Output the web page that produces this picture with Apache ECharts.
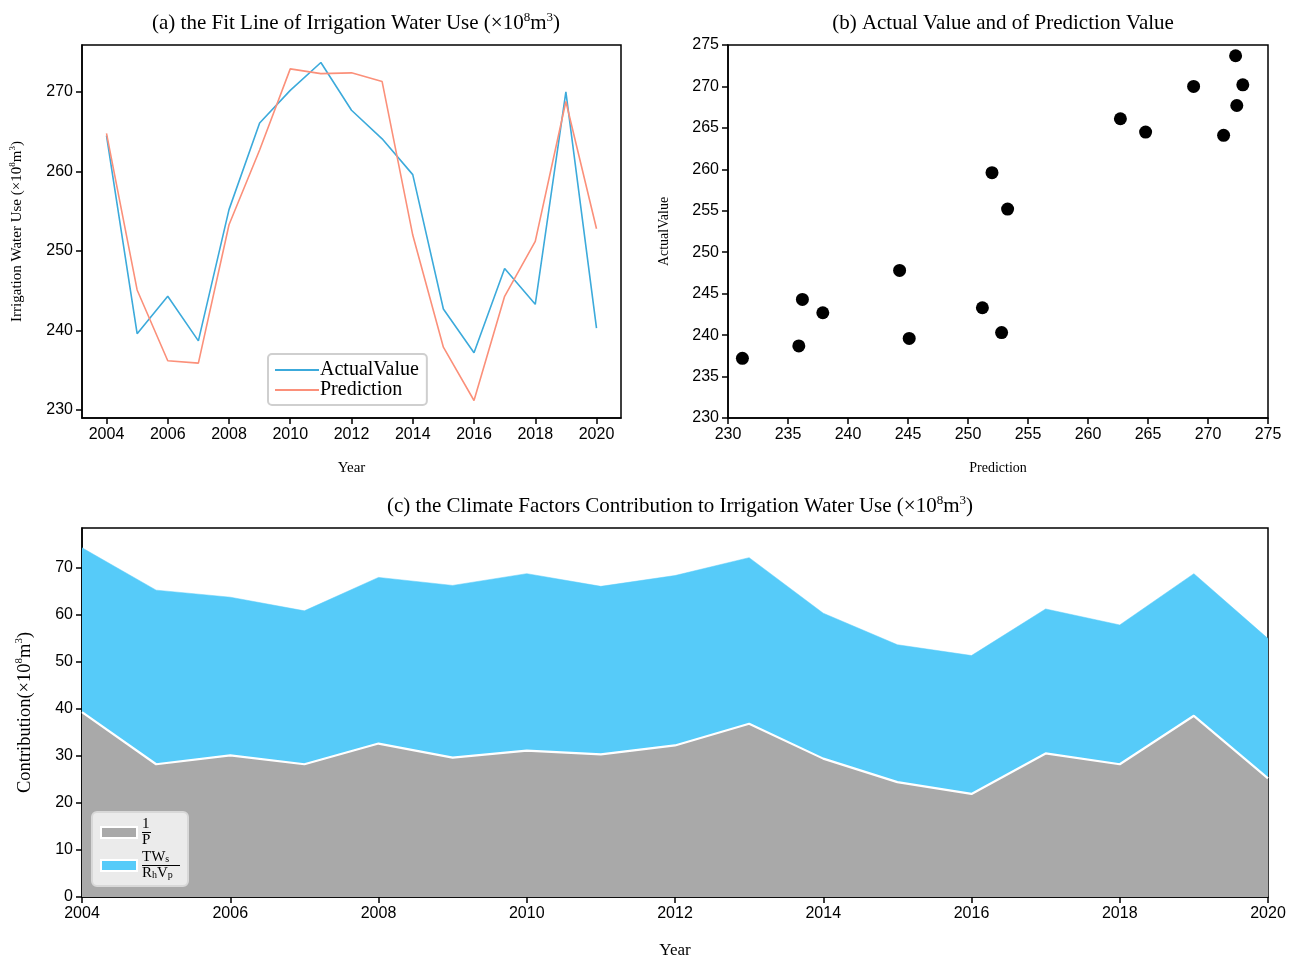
<!DOCTYPE html>
<html>
<head>
<meta charset="utf-8">
<script src="https://cdn.jsdelivr.net/npm/echarts@6/dist/echarts.min.js"></script>
<style>html,body{margin:0;padding:0;background:#fff}#c{width:1293px;height:960px}</style>
</head>
<body>
<div id="c"></div>
<script>
const years = [2004,2005,2006,2007,2008,2009,2010,2011,2012,2013,2014,2015,2016,2017,2018,2019,2020];
const actualValue = [264.5,239.6,244.3,238.7,255.2,266.1,270.2,273.7,267.7,264.1,259.6,242.7,237.2,247.8,243.3,270.0,240.3];
const prediction  = [264.8,245.1,236.2,235.9,253.3,262.7,272.9,272.3,272.4,271.3,252.0,237.9,231.2,244.3,251.2,268.8,252.8];
const contribP  = [39.3,28.2,30.1,28.2,32.6,29.6,31.1,30.3,32.2,36.8,29.4,24.4,21.9,30.5,28.2,38.5,25.2];
const contribTW = [34.9,37.0,33.6,32.6,35.3,36.6,37.6,35.7,36.1,35.3,30.9,29.2,29.4,30.7,29.6,30.2,29.7];
const yearTicks = [2004,2006,2008,2010,2012,2014,2016,2018,2020];
const fitTicks = [230,240,250,260,270];
const contribTicks = [0,10,20,30,40,50,60,70];

const SERIF = '"Liberation Serif","Times New Roman",serif';
const SANS = '"Liberation Sans",Arial,sans-serif';
const chart = echarts.init(document.getElementById('c'));

function ax(extra){
  const base = {
    axisLine: {show: true, onZero: false, lineStyle: {color: '#000', width: 1.5}},
    axisTick: {show: true, inside: false, length: 6, lineStyle: {color: '#000', width: 1.5}},
    axisLabel: {color: '#000', fontFamily: SANS, fontSize: 16, margin: 9},
    splitLine: {show: false}
  };
  if (extra.type === 'value') base.axisLabel.formatter = function(v){ return String(v); };
  if (extra.ticks) {
    base.axisTick.customValues = extra.ticks;
    base.axisLabel.customValues = extra.ticks;
    delete extra.ticks;
  }
  if (extra.catInterval !== undefined) {
    base.axisTick.interval = extra.catInterval;
    base.axisLabel.interval = extra.catInterval;
    delete extra.catInterval;
  }
  return Object.assign(base, extra);
}
function supRich(size){
  return {
    t: {fontFamily: SERIF, fontSize: size, fontWeight: 'normal', color: '#000', lineHeight: size + 4},
    s: {fontFamily: SERIF, fontSize: Math.round(size*0.62), fontWeight: 'normal', color: '#000', lineHeight: Math.round(size*0.62)+2, verticalAlign: 'top'}
  };
}

const option = {
  backgroundColor: '#fff',
  animation: false,
  title: [
    {text: '{t|(a) the Fit Line of Irrigation Water Use (×10}{s|8}{t|m}{s|3}{t|)}', left: 351, top: 6, textAlign: 'center',
     textStyle: {fontWeight: 'normal', rich: supRich(21)}},
    {text: '{t|(b) Actual Value and of Prediction Value}', left: 998, top: 6, textAlign: 'center',
     textStyle: {fontWeight: 'normal', rich: supRich(21)}},
    {text: '{t|(c) the Climate Factors Contribution to Irrigation Water Use (×10}{s|8}{t|m}{s|3}{t|)}', left: 675, top: 489, textAlign: 'center',
     textStyle: {fontWeight: 'normal', rich: supRich(21)}}
  ],
  grid: [
    {left: 82, top: 45, width: 539, height: 373, show: true, borderColor: '#000', borderWidth: 1.5, backgroundColor: 'transparent'},
    {left: 728, top: 45, width: 540, height: 373, show: true, borderColor: '#000', borderWidth: 1.5, backgroundColor: 'transparent'},
    {left: 82, top: 528, width: 1186, height: 373, show: true, borderColor: '#000', borderWidth: 1.5, backgroundColor: 'transparent'}
  ],
  xAxis: [
    ax({type: 'value', gridIndex: 0, min: 2003.2, max: 2020.8, ticks: yearTicks,
        name: 'Year', nameLocation: 'middle', nameGap: 43, nameTextStyle: {fontFamily: SERIF, fontSize: 15, color: '#000'}}),
    ax({type: 'value', gridIndex: 1, min: 230, max: 275, interval: 5,
        name: 'Prediction', nameLocation: 'middle', nameGap: 43, nameTextStyle: {fontFamily: SERIF, fontSize: 14, color: '#000'}}),
    ax({type: 'category', gridIndex: 2, data: years.map(String), boundaryGap: false, catInterval: 1,
        name: 'Year', nameLocation: 'middle', nameGap: 45, nameTextStyle: {fontFamily: SERIF, fontSize: 17, color: '#000'}})
  ],
  yAxis: [
    ax({type: 'value', gridIndex: 0, min: 229, max: 275.9, ticks: fitTicks,
        name: '{t|Irrigation Water Use (×10}{s|8}{t|m}{s|3}{t|)}', nameLocation: 'middle', nameGap: 55,
        nameTextStyle: {rich: supRich(15)}}),
    ax({type: 'value', gridIndex: 1, min: 230, max: 275, interval: 5,
        name: 'ActualValue', nameLocation: 'middle', nameGap: 57, nameTextStyle: {fontFamily: SERIF, fontSize: 14, color: '#000'}}),
    ax({type: 'value', gridIndex: 2, min: 0, max: 78.4, ticks: contribTicks,
        name: '{t|Contribution(×10}{s|8}{t|m}{s|3}{t|)}', nameLocation: 'middle', nameGap: 46,
        nameTextStyle: {rich: supRich(18.5)}})
  ],
  legend: [
    {left: 268, top: 354, orient: 'vertical', itemGap: 0, itemWidth: 44, itemHeight: 2, z: 10,
     backgroundColor: '#fff', borderColor: '#cfcfcf', borderWidth: 2, borderRadius: 4, padding: [6, 8, 5, 7],
     textStyle: {fontFamily: SERIF, fontSize: 20, color: '#000', padding: [0,0,0,-4]},
     data: [{name: 'ActualValue', icon: 'rect'}, {name: 'Prediction', icon: 'rect'}]},
    {left: 92, top: 812, orient: 'vertical', itemGap: 2, itemWidth: 36, itemHeight: 11, z: 10,
     backgroundColor: '#ebebeb', borderColor: '#d8d8d8', borderWidth: 2, borderRadius: 5, padding: [5, 8, 5, 8],
     itemStyle: {borderColor: '#fff', borderWidth: 2},
     formatter: function(name){
       if (name === 'P') return '{n|1}\n{bar| }\n{d|P}';
       return '{n|TW}{sub|s}\n{bar2| }\n{d|R}{sub|h}{d|V}{sub|p}';
     },
     textStyle: {color: '#000', fontFamily: SERIF, fontSize: 15, rich: {
       n: {fontFamily: SERIF, fontSize: 15, color: '#000', lineHeight: 14},
       d: {fontFamily: SERIF, fontSize: 15, color: '#000', lineHeight: 14},
       sub: {fontFamily: SERIF, fontSize: 10, color: '#000', lineHeight: 10, verticalAlign: 'bottom'},
       bar: {width: 9, height: 1, lineHeight: 2, backgroundColor: '#000'},
       bar2: {width: 38, height: 1, lineHeight: 2, backgroundColor: '#000'}
     }},
     data: [{name: 'P', icon: 'rect'}, {name: 'TW', icon: 'rect'}]}
  ],
  series: [
    {name: 'ActualValue', type: 'line', xAxisIndex: 0, yAxisIndex: 0, showSymbol: false, symbol: 'none',
     color: '#3caadb', lineStyle: {width: 1.6, color: '#3caadb'},
     data: years.map((y, i) => [y, actualValue[i]])},
    {name: 'Prediction', type: 'line', xAxisIndex: 0, yAxisIndex: 0, showSymbol: false, symbol: 'none',
     color: '#fb907a', lineStyle: {width: 1.6, color: '#fb907a'},
     data: years.map((y, i) => [y, prediction[i]])},
    {name: 'scatter', type: 'scatter', xAxisIndex: 1, yAxisIndex: 1, symbolSize: 13,
     itemStyle: {color: '#000', opacity: 1},
     data: years.map((y, i) => [prediction[i], actualValue[i]])},
    {name: 'P', type: 'line', xAxisIndex: 2, yAxisIndex: 2, stack: 'c', symbol: 'none', z: 3,
     color: '#a9a9a9', lineStyle: {color: '#fff', width: 2.2}, areaStyle: {color: '#a9a9a9', opacity: 1},
     data: contribP},
    {name: 'TW', type: 'line', xAxisIndex: 2, yAxisIndex: 2, stack: 'c', symbol: 'none', z: 2,
     color: '#56cbf9', lineStyle: {width: 0.5, color: '#56cbf9'}, areaStyle: {color: '#56cbf9', opacity: 1},
     data: contribTW}
  ]
};
chart.setOption(option);
</script>
</body>
</html>
